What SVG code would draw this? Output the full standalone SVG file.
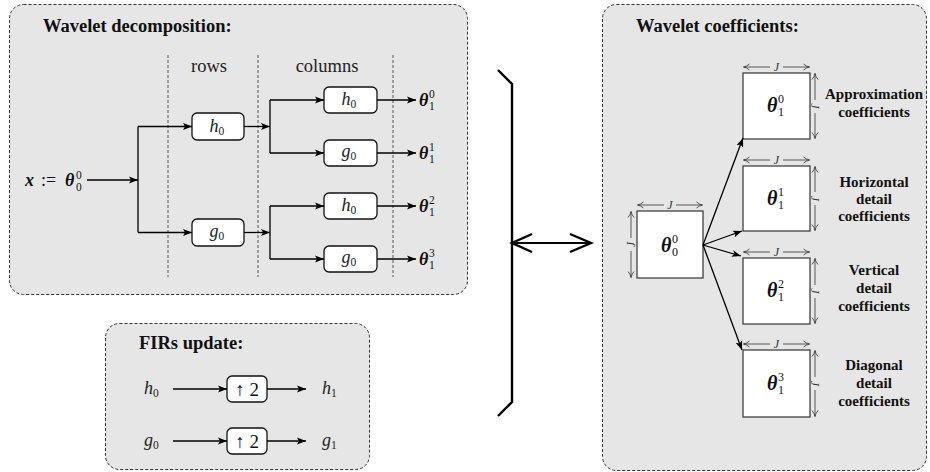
<svg xmlns="http://www.w3.org/2000/svg" width="930" height="472" viewBox="0 0 930 472">
<defs>
<marker id="ah" markerWidth="10" markerHeight="8" refX="9" refY="4" orient="auto" markerUnits="userSpaceOnUse">
<path d="M0,0.5 L9,4 L0,7.5 L2,4 Z" fill="#000"/>
</marker>
<marker id="dim" markerWidth="8" markerHeight="8" refX="7" refY="4" orient="auto-start-reverse" markerUnits="userSpaceOnUse">
<path d="M1,1 Q4,3.5 7,4 Q4,4.5 1,7" fill="none" stroke="#333" stroke-width="0.8"/>
</marker>
</defs>

<g id="panel-decomposition">
<rect x="9.5" y="4.5" width="458" height="290" rx="14" fill="#e6e6e6" stroke="#333" stroke-dasharray="3,2"/>
<text font-family="Liberation Serif" font-weight="bold" font-size="18.5" fill="#111" x="43" y="32">Wavelet decomposition:</text>
<g stroke="#555" stroke-dasharray="3,2">
<line x1="168" y1="55" x2="168" y2="277"/>
<line x1="258" y1="55" x2="258" y2="277"/>
<line x1="393" y1="55" x2="393" y2="277"/>
</g>
<text font-family="Liberation Serif" font-size="18.5" fill="#222" x="209" y="72" text-anchor="middle">rows</text>
<text font-family="Liberation Serif" font-size="18.5" fill="#222" x="327" y="72" text-anchor="middle">columns</text>
</g>

<g id="input" fill="#111">
<text font-family="Liberation Serif" font-style="italic" font-weight="bold" font-size="18" x="25" y="186">x</text>
<text font-family="Liberation Serif" font-size="18" x="41" y="186">:=</text>
<text font-family="Liberation Serif" font-style="italic" font-weight="bold" font-size="18" x="65" y="186">θ</text>
<text font-family="Liberation Serif" font-size="11.5" x="76" y="179">0</text>
<text font-family="Liberation Serif" font-size="11.5" x="76" y="191">0</text>
</g>

<g id="row-h0" fill="#222">
<rect x="192" y="113" width="52" height="27" rx="5" fill="#fff" stroke="#111" stroke-width="1.3"/>
<text font-family="Liberation Serif" font-style="italic" font-size="18" x="209.5" y="132">h</text><text font-family="Liberation Serif" font-size="11.5" x="218.5" y="135">0</text>
</g>
<g id="row-g0" fill="#222">
<rect x="192" y="219" width="52" height="27" rx="5" fill="#fff" stroke="#111" stroke-width="1.3"/>
<text font-family="Liberation Serif" font-style="italic" font-size="18" x="209.5" y="237">g</text><text font-family="Liberation Serif" font-size="11.5" x="218.5" y="240">0</text>
</g>
<g id="col-h0-a" fill="#222">
<rect x="324" y="87" width="53" height="26" rx="5" fill="#fff" stroke="#111" stroke-width="1.3"/>
<text font-family="Liberation Serif" font-style="italic" font-size="18" x="341.5" y="105">h</text><text font-family="Liberation Serif" font-size="11.5" x="350.5" y="108">0</text>
</g>
<g id="col-g0-a" fill="#222">
<rect x="324" y="140" width="53" height="26" rx="5" fill="#fff" stroke="#111" stroke-width="1.3"/>
<text font-family="Liberation Serif" font-style="italic" font-size="18" x="341.5" y="157">g</text><text font-family="Liberation Serif" font-size="11.5" x="350.5" y="160">0</text>
</g>
<g id="col-h0-b" fill="#222">
<rect x="324" y="193" width="53" height="26" rx="5" fill="#fff" stroke="#111" stroke-width="1.3"/>
<text font-family="Liberation Serif" font-style="italic" font-size="18" x="341.5" y="211">h</text><text font-family="Liberation Serif" font-size="11.5" x="350.5" y="214">0</text>
</g>
<g id="col-g0-b" fill="#222">
<rect x="324" y="246" width="53" height="26" rx="5" fill="#fff" stroke="#111" stroke-width="1.3"/>
<text font-family="Liberation Serif" font-style="italic" font-size="18" x="341.5" y="263">g</text><text font-family="Liberation Serif" font-size="11.5" x="350.5" y="266">0</text>
</g>

<g id="outputs" fill="#111">
<text font-family="Liberation Serif" font-style="italic" font-weight="bold" font-size="18" x="419" y="106">θ</text><text font-family="Liberation Serif" font-size="11.5" x="429" y="98">0</text><text font-family="Liberation Serif" font-size="11.5" x="429" y="110">1</text>
<text font-family="Liberation Serif" font-style="italic" font-weight="bold" font-size="18" x="419" y="159">θ</text><text font-family="Liberation Serif" font-size="11.5" x="429" y="151">1</text><text font-family="Liberation Serif" font-size="11.5" x="429" y="163">1</text>
<text font-family="Liberation Serif" font-style="italic" font-weight="bold" font-size="18" x="419" y="212">θ</text><text font-family="Liberation Serif" font-size="11.5" x="429" y="204">2</text><text font-family="Liberation Serif" font-size="11.5" x="429" y="216">1</text>
<text font-family="Liberation Serif" font-style="italic" font-weight="bold" font-size="18" x="419" y="265">θ</text><text font-family="Liberation Serif" font-size="11.5" x="429" y="257">3</text><text font-family="Liberation Serif" font-size="11.5" x="429" y="269">1</text>
</g>

<g id="panel-fir" fill="#222">
<rect x="105.5" y="323.5" width="264" height="146" rx="14" fill="#e6e6e6" stroke="#333" stroke-dasharray="3,2"/>
<text font-family="Liberation Serif" font-weight="bold" font-size="18.5" fill="#111" x="139" y="349">FIRs update:</text>
<text font-family="Liberation Serif" font-style="italic" font-size="18" x="144" y="394">h</text><text font-family="Liberation Serif" font-size="11.5" x="153" y="397">0</text>
<text font-family="Liberation Serif" font-style="italic" font-size="18" x="144" y="446">g</text><text font-family="Liberation Serif" font-size="11.5" x="153" y="449">0</text>
<text font-family="Liberation Serif" font-style="italic" font-size="18" x="322" y="394">h</text><text font-family="Liberation Serif" font-size="11.5" x="331" y="397">1</text>
<text font-family="Liberation Serif" font-style="italic" font-size="18" x="322" y="446">g</text><text font-family="Liberation Serif" font-size="11.5" x="331" y="449">1</text>
</g>
<g id="up1">
<rect x="227" y="376" width="40" height="26" rx="5" fill="#fff" stroke="#111" stroke-width="1.3"/>
<text font-family="Liberation Serif" font-size="19" fill="#111" x="247" y="395.5" text-anchor="middle">↑ 2</text>
</g>
<g id="up2">
<rect x="227" y="428" width="40" height="26" rx="5" fill="#fff" stroke="#111" stroke-width="1.3"/>
<text font-family="Liberation Serif" font-size="19" fill="#111" x="247" y="447.5" text-anchor="middle">↑ 2</text>
</g>

<g id="panel-coefficients" fill="#111">
<rect x="602.5" y="4.5" width="324" height="466" rx="14" fill="#e6e6e6" stroke="#333" stroke-dasharray="3,2"/>
<text font-family="Liberation Serif" font-weight="bold" font-size="18.5" x="636" y="32">Wavelet coefficients:</text>
<g text-anchor="middle">
<text font-family="Liberation Serif" font-weight="bold" font-size="15" x="874" y="99">Approximation</text>
<text font-family="Liberation Serif" font-weight="bold" font-size="15" x="874" y="117">coefficients</text>
<text font-family="Liberation Serif" font-weight="bold" font-size="15" x="874" y="187">Horizontal</text>
<text font-family="Liberation Serif" font-weight="bold" font-size="15" x="874" y="204">detail</text>
<text font-family="Liberation Serif" font-weight="bold" font-size="15" x="874" y="221">coefficients</text>
<text font-family="Liberation Serif" font-weight="bold" font-size="15" x="874" y="275">Vertical</text>
<text font-family="Liberation Serif" font-weight="bold" font-size="15" x="874" y="293">detail</text>
<text font-family="Liberation Serif" font-weight="bold" font-size="15" x="874" y="311">coefficients</text>
<text font-family="Liberation Serif" font-weight="bold" font-size="15" x="874" y="370">Diagonal</text>
<text font-family="Liberation Serif" font-weight="bold" font-size="15" x="874" y="388">detail</text>
<text font-family="Liberation Serif" font-weight="bold" font-size="15" x="874" y="406">coefficients</text>
</g>
</g>

<g id="sq00" fill="#111">
<rect x="637" y="211" width="66" height="67" fill="#fff" stroke="#333" stroke-width="1.2"/>
<g stroke="#333" stroke-width="0.8" fill="none" marker-end="url(#dim)">
<line x1="664" y1="205" x2="637.5" y2="205"/>
<line x1="676" y1="205" x2="702.5" y2="205"/>
<line x1="631" y1="238" x2="631" y2="211.5"/>
<line x1="631" y1="251" x2="631" y2="277.5"/>
</g>
<text font-family="Liberation Serif" font-style="italic" font-size="12" fill="#333" text-anchor="middle" x="670" y="209">J</text>
<text font-family="Liberation Serif" font-style="italic" font-size="12" fill="#333" text-anchor="middle" transform="translate(635,244.5) rotate(-90)">J</text>
<text font-family="Liberation Serif" font-style="italic" font-weight="bold" font-size="20" x="661" y="252">θ</text><text font-family="Liberation Serif" font-size="12" x="672" y="243">0</text><text font-family="Liberation Serif" font-size="12" x="672" y="256">0</text>
</g>

<g id="sq10" fill="#111">
<rect x="743" y="73" width="67" height="66" fill="#fff" stroke="#333" stroke-width="1.2"/>
<g stroke="#333" stroke-width="0.8" fill="none" marker-end="url(#dim)">
<line x1="770" y1="67" x2="743.5" y2="67"/>
<line x1="783" y1="67" x2="809.5" y2="67"/>
<line x1="815" y1="100" x2="815" y2="73.5"/>
<line x1="815" y1="113" x2="815" y2="138.5"/>
</g>
<text font-family="Liberation Serif" font-style="italic" font-size="12" fill="#333" text-anchor="middle" x="776.5" y="71">J</text>
<text font-family="Liberation Serif" font-style="italic" font-size="12" fill="#333" text-anchor="middle" transform="translate(811,106) rotate(90)">J</text>
<text font-family="Liberation Serif" font-style="italic" font-weight="bold" font-size="20" x="767" y="112">θ</text><text font-family="Liberation Serif" font-size="12" x="778" y="103">0</text><text font-family="Liberation Serif" font-size="12" x="778" y="116">1</text>
</g>
<g id="sq11" fill="#111">
<rect x="743" y="166" width="67" height="65" fill="#fff" stroke="#333" stroke-width="1.2"/>
<g stroke="#333" stroke-width="0.8" fill="none" marker-end="url(#dim)">
<line x1="770" y1="160" x2="743.5" y2="160"/>
<line x1="783" y1="160" x2="809.5" y2="160"/>
<line x1="815" y1="192" x2="815" y2="166.5"/>
<line x1="815" y1="205" x2="815" y2="230.5"/>
</g>
<text font-family="Liberation Serif" font-style="italic" font-size="12" fill="#333" text-anchor="middle" x="776.5" y="164">J</text>
<text font-family="Liberation Serif" font-style="italic" font-size="12" fill="#333" text-anchor="middle" transform="translate(811,198.5) rotate(90)">J</text>
<text font-family="Liberation Serif" font-style="italic" font-weight="bold" font-size="20" x="767" y="205">θ</text><text font-family="Liberation Serif" font-size="12" x="778" y="196">1</text><text font-family="Liberation Serif" font-size="12" x="778" y="209">1</text>
</g>
<g id="sq12" fill="#111">
<rect x="743" y="258" width="67" height="66" fill="#fff" stroke="#333" stroke-width="1.2"/>
<g stroke="#333" stroke-width="0.8" fill="none" marker-end="url(#dim)">
<line x1="770" y1="252" x2="743.5" y2="252"/>
<line x1="783" y1="252" x2="809.5" y2="252"/>
<line x1="815" y1="285" x2="815" y2="258.5"/>
<line x1="815" y1="298" x2="815" y2="323.5"/>
</g>
<text font-family="Liberation Serif" font-style="italic" font-size="12" fill="#333" text-anchor="middle" x="776.5" y="256">J</text>
<text font-family="Liberation Serif" font-style="italic" font-size="12" fill="#333" text-anchor="middle" transform="translate(811,291) rotate(90)">J</text>
<text font-family="Liberation Serif" font-style="italic" font-weight="bold" font-size="20" x="767" y="297">θ</text><text font-family="Liberation Serif" font-size="12" x="778" y="288">2</text><text font-family="Liberation Serif" font-size="12" x="778" y="301">1</text>
</g>
<g id="sq13" fill="#111">
<rect x="743" y="350" width="67" height="67" fill="#fff" stroke="#333" stroke-width="1.2"/>
<g stroke="#333" stroke-width="0.8" fill="none" marker-end="url(#dim)">
<line x1="770" y1="344" x2="743.5" y2="344"/>
<line x1="783" y1="344" x2="809.5" y2="344"/>
<line x1="815" y1="377" x2="815" y2="350.5"/>
<line x1="815" y1="390" x2="815" y2="416.5"/>
</g>
<text font-family="Liberation Serif" font-style="italic" font-size="12" fill="#333" text-anchor="middle" x="776.5" y="348">J</text>
<text font-family="Liberation Serif" font-style="italic" font-size="12" fill="#333" text-anchor="middle" transform="translate(811,383.5) rotate(90)">J</text>
<text font-family="Liberation Serif" font-style="italic" font-weight="bold" font-size="20" x="767" y="390">θ</text><text font-family="Liberation Serif" font-size="12" x="778" y="381">3</text><text font-family="Liberation Serif" font-size="12" x="778" y="394">1</text>
</g>

<g id="connectors" stroke="#000" stroke-width="1.3" fill="none">
<g marker-end="url(#ah)">
<line x1="87" y1="180" x2="138" y2="180"/>
<line x1="138" y1="126.5" x2="192" y2="126.5"/>
<line x1="138" y1="232.5" x2="192" y2="232.5"/>
<line x1="244" y1="126.5" x2="270" y2="126.5"/>
<line x1="270" y1="100" x2="324" y2="100"/>
<line x1="270" y1="153" x2="324" y2="153"/>
<line x1="244" y1="232.5" x2="270" y2="232.5"/>
<line x1="270" y1="206" x2="324" y2="206"/>
<line x1="270" y1="259" x2="324" y2="259"/>
<line x1="377" y1="100" x2="416" y2="100"/>
<line x1="377" y1="153" x2="416" y2="153"/>
<line x1="377" y1="206" x2="416" y2="206"/>
<line x1="377" y1="259" x2="416" y2="259"/>
<line x1="173" y1="389" x2="227" y2="389"/>
<line x1="267" y1="389" x2="306" y2="389"/>
<line x1="173" y1="441" x2="227" y2="441"/>
<line x1="267" y1="441" x2="306" y2="441"/>
<line x1="703" y1="245" x2="743" y2="138"/>
<line x1="703" y1="245" x2="742" y2="231"/>
<line x1="703" y1="245" x2="741" y2="256"/>
<line x1="703" y1="245" x2="742" y2="350"/>
</g>
<line x1="138" y1="126.5" x2="138" y2="232.5"/>
<line x1="270" y1="100" x2="270" y2="153"/>
<line x1="270" y1="206" x2="270" y2="259"/>
<polyline points="498,70 512,84 512,402 498,416" stroke-width="2.4"/>
<line x1="512" y1="243" x2="592" y2="243" stroke-width="2"/>
<polyline points="532,234 512,243 532,252" stroke-width="2.4"/>
<polyline points="570,234 591,243 570,252" stroke-width="2.4"/>
</g>
</svg>
